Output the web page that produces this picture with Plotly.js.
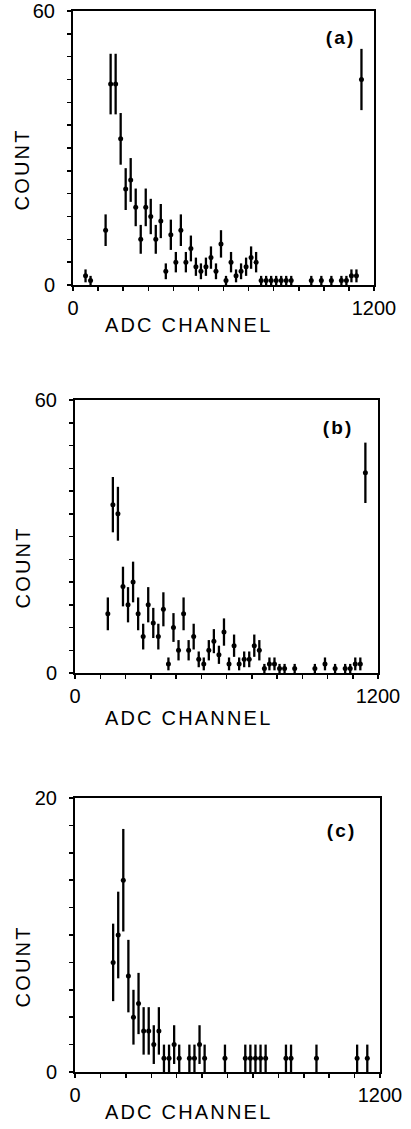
<!DOCTYPE html>
<html>
<head>
<meta charset="utf-8">
<script src="https://cdn.plot.ly/plotly-3.0.1.min.js"></script>
<style>
html,body{margin:0;padding:0;background:#fff;}
#chart{width:411px;height:1129px;}
#chart .annotation-text{letter-spacing:2.2px;}
</style>
</head>
<body>
<div id="chart"></div>
<script>
// ---- data ----
const chA = [50,70,130,150,170,190,210,230,250,270,290,310,330,350,370,390,410,430,450,470,490,510,530,550,570,590,610,630,650,670,690,710,730,750,770,790,810,830,850,870,950,990,1030,1070,1090,1110,1130,1150];
const countA = [2,1,12,44,44,32,21,23,17,10,17,15,10,14,3,11,5,12,5,8,4,3,4,6,3,9,1,5,2,3,4,6,5,1,1,1,1,1,1,1,1,1,1,1,1,2,2,45];

const chB = [130,150,170,190,210,230,250,270,290,310,330,350,370,390,410,430,450,470,490,510,530,550,570,590,610,630,650,670,690,710,730,750,770,790,810,830,870,950,990,1030,1070,1090,1110,1130,1150];
const countB = [13,37,35,19,15,20,13,8,15,11,8,14,2,10,5,13,5,8,3,2,5,7,4,9,2,6,2,3,3,6,5,1,2,2,1,1,1,1,2,1,1,1,2,2,44];

const chC = [150,170,190,210,230,250,270,290,310,330,350,370,390,410,450,470,490,510,590,670,690,710,730,750,830,850,950,1110,1150];
const countC = [8,10,14,7,4,5,3,3,2,3,1,1,2,1,1,1,2,1,1,1,1,1,1,1,1,1,1,1,1];

const xTickVals = [0,100,200,300,400,500,600,700,800,900,1000,1100,1200];
const xTickText = ['0','','','','','','','','','','','','1200'];
const yTickValsAB = [0,5,10,15,20,25,30,35,40,45,50,55,60];
const yTickTextAB = ['0','','','','','','','','','','','','60'];
const yTickValsC = [0,2,4,6,8,10,12,14,16,18,20];
const yTickTextC = ['0','','','','','','','','','','20'];
const panelLabels = ['(a)','(b)','(c)'];
const xTitle = 'ADC CHANNEL';
const yTitle = 'COUNT';

// ---- drawing ----
const FONT = 'Liberation Sans, Arial, sans-serif';
const W = 411, H = 1129;
const px = v => v / W;
const py = v => 1 - v / H;

function trace(x, y, xa, ya) {
  return {
    x: x, y: y, xaxis: xa, yaxis: ya, type: 'scatter', mode: 'markers',
    marker: {color: '#000', size: 5, symbol: 'circle'},
    error_y: {type: 'sqrt', visible: true, color: '#000', thickness: 2.3, width: 0},
    hoverinfo: 'x+y', showlegend: false, cliponaxis: true
  };
}

function xax(dom, anchor) {
  return {
    domain: dom, anchor: anchor, range: [0, 1200], autorange: false,
    tickmode: 'array', tickvals: xTickVals, ticktext: xTickText,
    ticks: 'outside', ticklen: 4, tickwidth: 1.5, tickcolor: '#000',
    showline: true, mirror: true, linewidth: 2, linecolor: '#000',
    showgrid: false, zeroline: false, ticklabelstandoff: 0,
    tickfont: {family: FONT, size: 20, color: '#000'}
  };
}
function yax(dom, anchor, top, vals, text) {
  return {
    domain: dom, anchor: anchor, range: [0, top], autorange: false,
    tickmode: 'array', tickvals: vals, ticktext: text,
    ticks: 'outside', ticklen: 4, tickwidth: 1.5, tickcolor: '#000',
    showline: true, mirror: true, linewidth: 2, linecolor: '#000',
    showgrid: false, zeroline: false, ticklabelstandoff: 8,
    tickfont: {family: FONT, size: 20, color: '#000'}
  };
}

const data = [
  trace(chA, countA, 'x', 'y'),
  trace(chB, countB, 'x2', 'y2'),
  trace(chC, countC, 'x3', 'y3')
];

function ann(text, x, y, opts) {
  return Object.assign({
    text: text, xref: 'paper', yref: 'paper', x: px(x), y: py(y),
    xanchor: 'center', yanchor: 'middle', showarrow: false,
    font: {family: FONT, size: 20, color: '#000'}
  }, opts || {});
}
const labelFont = {family: FONT, size: 19, color: '#000', weight: 'bold'};

const layout = {
  width: W, height: H,
  margin: {l: 0, r: 0, t: 0, b: 0},
  paper_bgcolor: '#fff', plot_bgcolor: '#fff',
  showlegend: false,
  xaxis: xax([px(73), px(374)], 'y'),
  yaxis: yax([py(285), py(11)], 'x', 60, yTickValsAB, yTickTextAB),
  xaxis2: xax([px(75), px(378)], 'y2'),
  yaxis2: yax([py(673), py(400)], 'x2', 60, yTickValsAB, yTickTextAB),
  xaxis3: xax([px(75), px(380)], 'y3'),
  yaxis3: yax([py(1072), py(798)], 'x3', 20, yTickValsC, yTickTextC),
  annotations: [
    ann(yTitle, 22, 170, {textangle: -90}),
    ann(xTitle, 188, 325),
    ann(panelLabels[0], 340, 37, {font: labelFont}),
    ann(yTitle, 23, 568, {textangle: -90}),
    ann(xTitle, 188, 718),
    ann(panelLabels[1], 338, 427, {font: labelFont}),
    ann(yTitle, 23, 967, {textangle: -90}),
    ann(xTitle, 188, 1112),
    ann(panelLabels[2], 341, 830, {font: labelFont})
  ]
};

Plotly.newPlot('chart', data, layout, {staticPlot: true, displayModeBar: false});
</script>
</body>
</html>
